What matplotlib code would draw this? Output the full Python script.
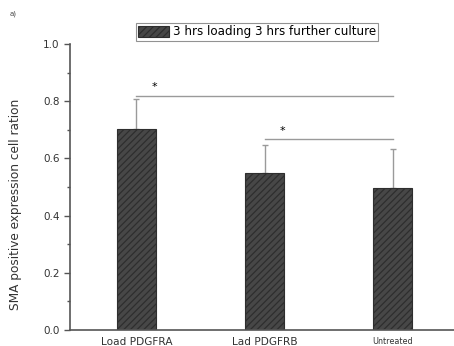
import matplotlib
matplotlib.use("Agg")
import matplotlib.pyplot as plt
from matplotlib.ticker import MultipleLocator

plt.rcParams['hatch.color'] = '#a5a5a5'
plt.rcParams['hatch.linewidth'] = 0.9

groups = ["Load PDGFRA", "Lad PDGFRB", "Untreated"]
ratios = [0.702, 0.548, 0.496]
errors = [0.106, 0.100, 0.138]
legend_label = "3 hrs loading 3 hrs further culture"

# significance brackets: (left group, right group, line height)
brackets = [(0, 2, 0.819), (1, 2, 0.667)]

fig = plt.figure(figsize=(4.54, 3.46), dpi=100)
ax = fig.add_axes([0.154, 0.046, 0.846, 0.827])

x = list(range(len(groups)))
bars = ax.bar(x, ratios, width=0.3, color='#474747', edgecolor='#2e2e2e',
              linewidth=0.8, hatch='/////', label=legend_label, zorder=2)
ax.errorbar(x, ratios, yerr=[[0] * len(errors), errors], fmt='none',
            ecolor='#9a9a9a', elinewidth=1.0, capsize=2, capthick=1.0, zorder=1)

for lo, hi, h in brackets:
    ax.plot([lo, hi], [h, h], color='#9a9a9a', lw=1.0)
    ax.text(lo + 0.14, h + 0.012, '*', ha='center', va='bottom', fontsize=8)

ax.set_xlim(-0.52, 2.48)
ax.set_ylim(0, 1.0)
ax.yaxis.set_major_locator(MultipleLocator(0.2))
ax.yaxis.set_minor_locator(MultipleLocator(0.1))
ax.set_yticks([0.0, 0.2, 0.4, 0.6, 0.8, 1.0])
ax.set_yticklabels(['0.0', '0.2', '0.4', '0.6', '0.8', '1.0'], fontsize=7.5, color='#333333')
ax.tick_params(axis='y', which='major', length=4, width=1, color='#555555')
ax.tick_params(axis='y', which='minor', length=2.5, width=1, color='#555555')
ax.set_xticks(x)
ax.set_xticklabels(groups, fontsize=7.6, color='#333333')
ax.get_xticklabels()[2].set_fontsize(5.8)
ax.tick_params(axis='x', length=0, pad=5)

for side in ['top', 'right']:
    ax.spines[side].set_visible(False)
for side in ['left', 'bottom']:
    ax.spines[side].set_color('#555555')
    ax.spines[side].set_linewidth(1.2)

ax.set_ylabel("SMA positive expression cell ration", fontsize=8.7, color='#333333')
ax.yaxis.set_label_coords(-0.125, 0.44)

leg = ax.legend(loc='center', bbox_to_anchor=(0.487, 1.042), fontsize=8.6,
                frameon=True, fancybox=False, handlelength=2.6, handleheight=1.1,
                borderpad=0.2, handletextpad=0.3, borderaxespad=0)
leg.get_frame().set_edgecolor('#777777')
leg.get_frame().set_linewidth(0.8)

fig.text(0.022, 0.955, 'a)', fontsize=5, color='#444444')

fig.savefig("out.png", dpi=100)
